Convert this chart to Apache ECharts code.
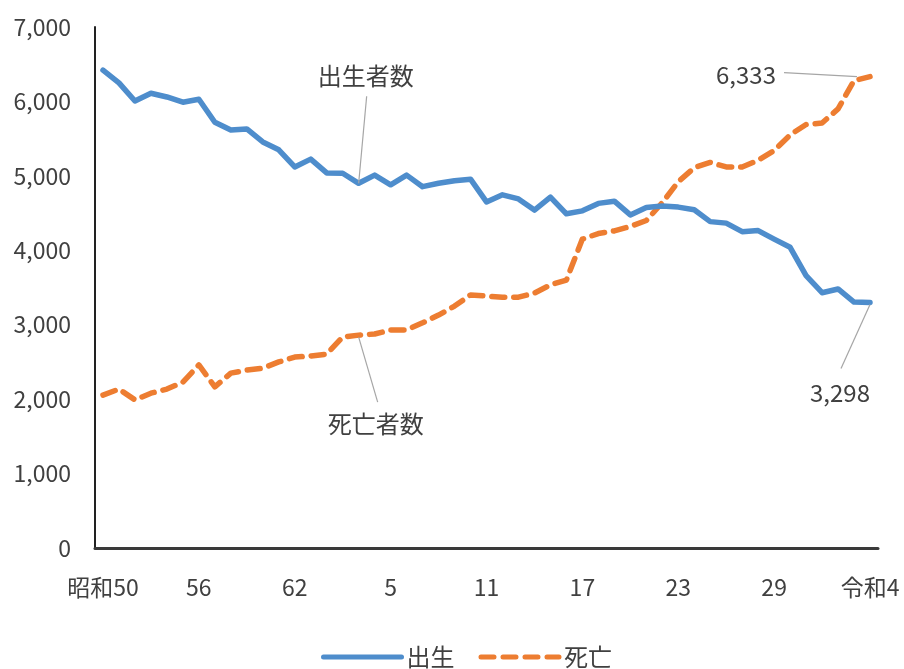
<!DOCTYPE html>
<html>
<head>
<meta charset="utf-8">
<script src="https://cdn.jsdelivr.net/npm/echarts@6/dist/echarts.min.js"></script>
<style>
  html, body { margin: 0; padding: 0; background: #ffffff; }
  #chart { width: 904px; height: 669px; }
</style>
</head>
<body>
<div id="chart"></div>
<script>
// Year categories (Japanese era years), 2019 appears as both 平成31 and 令和元
const years = [
  '昭和50', '51', '52', '53', '54', '55', '56', '57', '58', '59', '60', '61', '62', '63',
  '平成元', '2', '3', '4', '5', '6', '7', '8', '9', '10', '11', '12', '13', '14', '15', '16',
  '17', '18', '19', '20', '21', '22', '23', '24', '25', '26', '27', '28', '29', '30', '31',
  '令和元', '2', '3', '令和4'
];

// Births per year
const births = [
  6420, 6250, 6005, 6110, 6060, 5990, 6030, 5720, 5615, 5630, 5455, 5350, 5120, 5225,
  5040, 5035, 4900, 5010, 4880, 5010, 4855, 4900, 4935, 4955, 4650, 4745, 4690, 4540,
  4715, 4490, 4530, 4630, 4660, 4475, 4575, 4595, 4580, 4545, 4385, 4365, 4250, 4265,
  4150, 4040, 3660, 3430, 3480, 3305, 3298
];

// Deaths per year
const deaths = [
  2055, 2135, 1990, 2080, 2135, 2230, 2460, 2165, 2350, 2390, 2415, 2500, 2565, 2580,
  2605, 2835, 2860, 2875, 2930, 2930, 3025, 3130, 3250, 3400, 3385, 3370, 3370, 3425,
  3535, 3600, 4150, 4225, 4260, 4320, 4400, 4640, 4920, 5110, 5180, 5120, 5120, 5210,
  5340, 5550, 5690, 5710, 5900, 6280, 6333
];

// Value axis range
const yMin = 0;
const yMax = 7000;
const yStep = 1000;

const seriesNames = ['出生', '死亡'];
const noteNames = ['出生者数', '死亡者数'];
const noteIndex = 16;

const FONT = '"Noto Sans CJK JP", "Noto Sans", sans-serif';
const TEXT_COLOR = '#404040';
const BLUE = '#4E8DCC';
const ORANGE = '#ED7D31';
const GUIDE = '#A6A6A6';

const fmt = v => v.toLocaleString('en-US');

const chart = echarts.init(document.getElementById('chart'), null, { renderer: 'canvas' });

chart.setOption({
  animation: false,
  backgroundColor: '#ffffff',
  textStyle: { fontFamily: FONT },
  grid: { left: 95, right: 26, top: 27, bottom: 121, containLabel: false },
  legend: {
    data: seriesNames,
    left: 316,
    top: 640,
    itemWidth: 78,
    itemHeight: 14,
    itemGap: 24,
    itemStyle: { opacity: 0 },
    lineStyle: { width: 5, cap: 'round' },
    textStyle: { fontFamily: FONT, fontSize: 24, color: TEXT_COLOR }
  },
  xAxis: {
    type: 'category',
    data: years,
    boundaryGap: true,
    axisLine: { show: true, lineStyle: { color: '#3a3a3a', width: 3 } },
    axisTick: { show: false },
    axisLabel: {
      interval: 5,
      margin: 28,
      fontFamily: FONT,
      fontSize: 23,
      color: TEXT_COLOR
    },
    splitLine: { show: false }
  },
  yAxis: {
    type: 'value',
    min: yMin,
    max: yMax,
    interval: yStep,
    axisLine: { show: true, lineStyle: { color: '#222222', width: 2 } },
    axisTick: { show: false },
    axisLabel: {
      margin: 24,
      fontFamily: FONT,
      fontSize: 23,
      color: TEXT_COLOR,
      formatter: v => fmt(v)
    },
    splitLine: { show: false }
  },
  series: [
    {
      name: seriesNames[0],
      type: 'line',
      data: births,
      symbol: 'none',
      color: BLUE,
      lineStyle: { color: BLUE, width: 5.5, cap: 'round', join: 'round' },
      z: 3
    },
    {
      name: seriesNames[1],
      type: 'line',
      data: deaths,
      symbol: 'none',
      color: ORANGE,
      lineStyle: { color: ORANGE, width: 5.5, type: [13, 9], cap: 'round', join: 'round' },
      z: 2
    }
  ]
});

// Callout texts with guide lines, anchored to points on the series
function px(seriesIndex, i, v) {
  return chart.convertToPixel({ seriesIndex: seriesIndex }, [i, v]);
}

const last = years.length - 1;
const pBirthNote = px(0, noteIndex, births[noteIndex]);
const pDeathNote = px(1, noteIndex, deaths[noteIndex]);
const pBirthLast = px(0, last, births[last]);
const pDeathLast = px(1, last, deaths[last]);

function guide(x1, y1, x2, y2) {
  return {
    type: 'line',
    shape: { x1: x1, y1: y1, x2: x2, y2: y2 },
    style: { stroke: GUIDE, lineWidth: 1.2 },
    z: 10
  };
}
function note(text, x, y) {
  return {
    type: 'text',
    x: x, y: y,
    style: {
      text: text,
      fill: TEXT_COLOR,
      font: '24px ' + FONT,
      align: 'center',
      verticalAlign: 'middle'
    },
    z: 10
  };
}

chart.setOption({
  graphic: [
    guide(pBirthNote[0], pBirthNote[1], pBirthNote[0] + 8, pBirthNote[1] - 87),
    note(noteNames[0], pBirthNote[0] + 7, pBirthNote[1] - 107),
    guide(pDeathNote[0], pDeathNote[1] + 2, pDeathNote[0] + 19, pDeathNote[1] + 67),
    note(noteNames[1], pDeathNote[0] + 17, pDeathNote[1] + 89),
    guide(pDeathLast[0] - 13, pDeathLast[1], pDeathLast[0] - 86, pDeathLast[1] - 4),
    note(fmt(deaths[last]), pDeathLast[0] - 124, pDeathLast[1] - 2),
    guide(pBirthLast[0], pBirthLast[1] + 2, pBirthLast[0] - 29, pBirthLast[1] + 66),
    note(fmt(births[last]), pBirthLast[0] - 30, pBirthLast[1] + 90)
  ]
});
</script>
</body>
</html>
